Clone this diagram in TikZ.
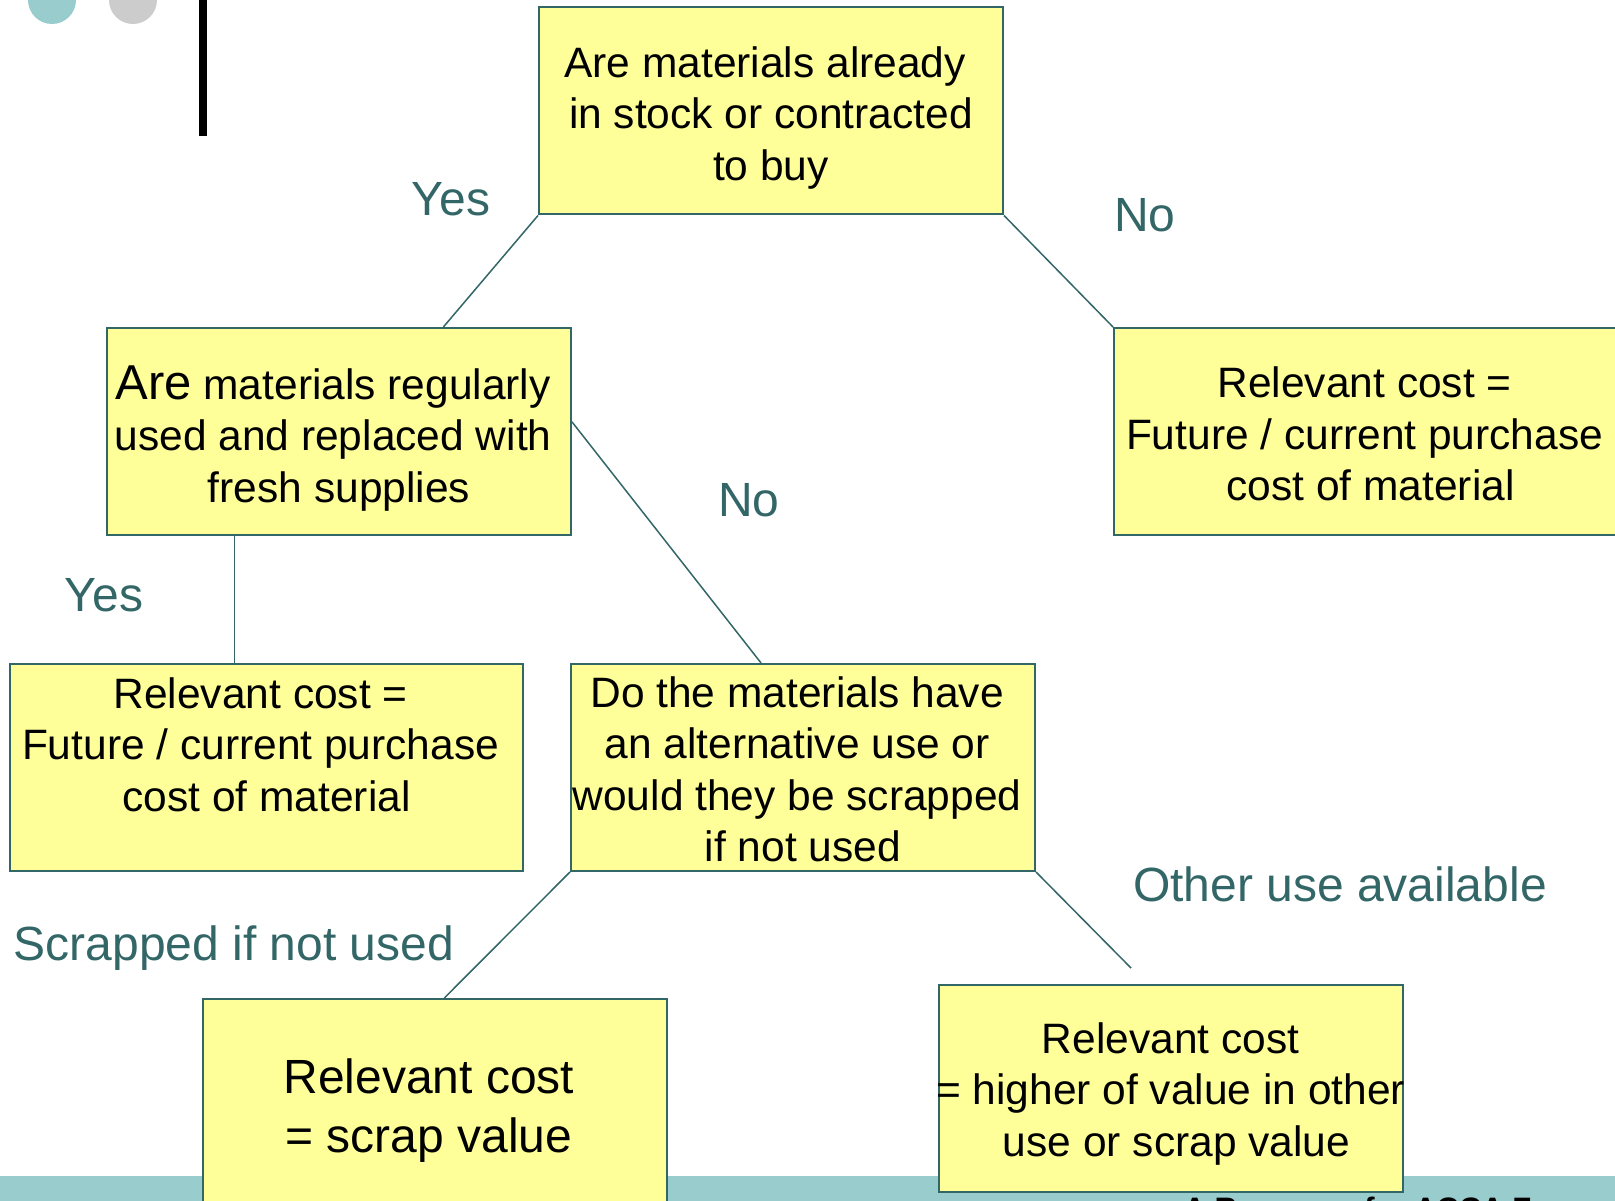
\documentclass[tikz,border=0pt]{standalone}
\usepackage{fontspec}
\setmainfont{Liberation Sans}
\usetikzlibrary{positioning, calc}
\definecolor{tealline}{HTML}{336666}
\definecolor{boxfill}{HTML}{FFFF99}
\definecolor{barteal}{HTML}{99CCCC}
\definecolor{dotgrey}{HTML}{CCCCCC}
% a space kept at the end of a wrapped line
\newcommand{\trailsp}{\rule{11.8pt}{0pt}}
\tikzset{
        my-question-box/.style={
            draw=tealline, fill=boxfill, line width=2pt, inner sep=0pt,
            minimum width=464pt, minimum height=207pt
        },
        my-cost-box/.style={
            my-question-box, minimum width=513pt
        },
        my-box-text/.style={
            align=center, inner sep=0pt, text=black,
            font=\fontsize{42.5}{51.5}\selectfont
        },
        my-branch-label/.style={
            text=tealline, font=\fontsize{48}{56}\selectfont
        },
        my-branch-line/.style={
            draw=tealline, line width=1.5pt
        },
}

\begin{document}
\begin{tikzpicture}[x=1pt, y=1pt]

        \useasboundingbox (0,0) rectangle (1615,-1201);

        % SLIDE ORNAMENTS
        \fill [barteal]  (52,0) circle (24);
        \fill [dotgrey]  (133,0) circle (24);
        \fill [black]    (199,0) rectangle (207,-136);
        \fill [barteal]  (0,-1176) rectangle (1615,-1201);

        %DRAW NODES (everything placed from the first question box Q1, text sits in a centre label)
        \node [my-question-box, label={[my-box-text, yshift=-7]center:{Are materials already\trailsp\\in stock or contracted\\to buy}}]
                                (Q1)     at (771,-111)               {};
        \node [my-question-box, label={[my-box-text, yshift=-7]center:{{\fontsize{49}{51.5}\selectfont Are} materials regularly\trailsp\\used and replaced with\trailsp\\fresh supplies}}]
                                (Q2)     at ($(Q1)+(-432,-320.5)$)   {};
        \node [my-cost-box, label={[my-box-text, yshift=-2.5]center:{Relevant cost =\trailsp\\Future / current purchase\trailsp\\cost of material}}]
                                (COSTA)  at ($(Q1)+(599.5,-320.5)$)  {};
        \node [my-cost-box, label={[my-box-text, yshift=23]center:{Relevant cost =\trailsp\\Future / current purchase\trailsp\\cost of material}}]
                                (COSTB)  at ($(Q1)+(-504.5,-656.5)$) {};
        \node [my-question-box, label={[my-box-text, yshift=-2]center:{Do the materials have\trailsp\\an alternative use or\trailsp\\would they be scrapped\trailsp\\if not used}}]
                                (Q3)     at ($(Q1)+(32,-656.5)$)     {};
        \node [my-question-box, label={[my-box-text, font=\fontsize{48}{59}\selectfont, xshift=-6, yshift=-8]center:{Relevant cost\\= scrap value}}]
                                (SCRAP)  at ($(Q1)+(-336,-991.5)$)   {};
        \node [my-question-box, label={[my-box-text, xshift=6, yshift=-6]center:{Relevant cost\trailsp\\= higher of value in other\trailsp\\use or scrap value}}]
                                (OTHER)  at ($(Q1)+(399.5,-977)$)    {};

        % BRANCH LABELS
        \node [my-branch-label] (YES1)   at ($(Q1)+(-320,-88)$)      {Yes};
        \node [my-branch-label] (NO1)    at ($(Q1)+(374,-104)$)      {No};
        \node [my-branch-label] (NO2)    at ($(Q1)+(-22,-389)$)      {No};
        \node [my-branch-label] (YES2)   at ($(Q1)+(-667,-484)$)     {Yes};
        \node [my-branch-label] (SCRAPL) at ($(Q1)+(-537,-837)$)     {Scrapped if not used};
        \node [my-branch-label] (OTHERL) at ($(Q1)+(569,-773)$)      {Other use available};
        \coordinate             (OTHEREND) at ($(Q1)+(360,-857)$);

        % CONNECT BRANCHES
        \draw [my-branch-line] (Q1.south west) -- ($(Q2.north west)!.724!(Q2.north east)$);
        \draw [my-branch-line] (Q1.south east) -- (COSTA.north west);
        \draw [my-branch-line] ($(Q2.south west)!.276!(Q2.south east)$) coordinate (Q2YES) -- (Q2YES |- COSTB.north);
        \draw [my-branch-line] ($(Q2.north east)!.454!(Q2.south east)$) -- ($(Q3.north west)!.41!(Q3.north east)$);
        \draw [my-branch-line] (Q3.south west) -- ($(SCRAP.north west)!.52!(SCRAP.north east)$);
        \draw [my-branch-line] (Q3.south east) -- (OTHEREND);

        % FOOTER TEXT (runs off the page)
        \node [anchor=base west, font=\bfseries\fontsize{31}{36}\selectfont] (FOOTER) at (1180,-1219) {A Resource for ACCA F};

\end{tikzpicture}
\end{document}
